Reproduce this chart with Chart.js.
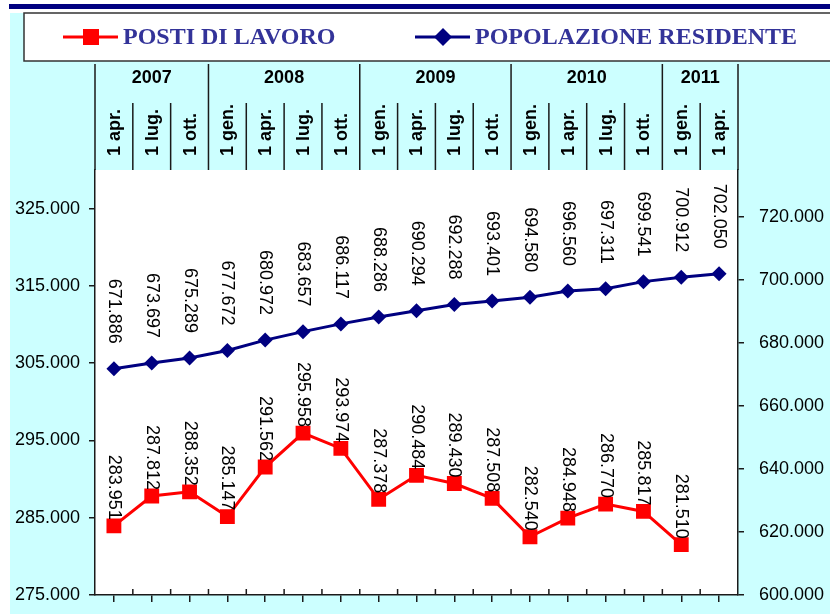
<!DOCTYPE html>
<html>
<head>
<meta charset="utf-8">
<script src="https://cdn.jsdelivr.net/npm/chart.js@4.4.0/dist/chart.umd.min.js"></script>
<style>
  html, body { margin: 0; padding: 0; background: #fff; }
  canvas { display: block; }
</style>
</head>
<body>
<canvas id="graficoPostiPopolazione" width="830" height="614"></canvas>
<script>
// dati
const mesi = ["1 apr.", "1 lug.", "1 ott.",
              "1 gen.", "1 apr.", "1 lug.", "1 ott.",
              "1 gen.", "1 apr.", "1 lug.", "1 ott.",
              "1 gen.", "1 apr.", "1 lug.", "1 ott.",
              "1 gen.", "1 apr."];
const anni = ["2007", "2008", "2009", "2010", "2011"];
const mesiPerAnno = [3, 4, 4, 4, 2];

const postiLavoro = [283951, 287812, 288352, 285147, 291562, 295958, 293974, 287378,
                     290484, 289430, 287508, 282540, 284948, 286770, 285817, 281510, null];
const popolazione = [671886, 673697, 675289, 677672, 680972, 683657, 686117, 688286,
                     690294, 692288, 693401, 694580, 696560, 697311, 699541, 700912, 702050];

const tickSinistra = [275000, 285000, 295000, 305000, 315000, 325000];
const tickDestra = [600000, 620000, 640000, 660000, 680000, 700000, 720000];

const ROSSO = "#FF0000";
const BLU = "#000080";
const CIANO = "#CCFFFF";
const LINEA = "#1a1a1a";
const SANS = "'Liberation Sans', Arial, sans-serif";
const SERIF = "'Liberation Serif', 'Times New Roman', serif";

function formatta(v) {
    return String(v).replace(/\B(?=(\d{3})+(?!\d))/g, ".");
}

// niente padding extra dalle etichette degli assi y
function fissaLarghezza(larghezza) {
    return (s) => {
        s.width = larghezza;
        s.paddingTop = 0;
        s.paddingBottom = 0;
    };
}

// sfondo, intestazione, legenda, etichette
const decorazioni = {
    id: "decorazioni",
    beforeDraw(chart) {
        const { ctx, chartArea: a, width, height } = chart;
        ctx.save();
        ctx.fillStyle = "#fff";
        ctx.fillRect(0, 0, width, height);
        ctx.fillStyle = CIANO;
        ctx.fillRect(10, 13, width - 10, height - 13);
        ctx.fillStyle = BLU;
        ctx.fillRect(9, 4, width - 9, 5);
        ctx.fillStyle = "#fff";
        ctx.fillRect(a.left, a.top, a.right - a.left, a.bottom - a.top);
        ctx.restore();
    },
    afterDatasetsDraw(chart) {
        const ctx = chart.ctx;
        ctx.save();
        ctx.font = "18px " + SANS;
        ctx.fillStyle = "#000";
        ctx.textBaseline = "middle";
        ctx.textAlign = "right";
        const scarti = [6, 25];
        chart.data.datasets.forEach((ds, d) => {
            const meta = chart.getDatasetMeta(d);
            meta.data.forEach((p, i) => {
                if (ds.data[i] == null) return;
                ctx.save();
                ctx.translate(p.x, p.y - scarti[d]);
                ctx.rotate(Math.PI / 2);
                ctx.fillText(formatta(ds.data[i]), 0, 0);
                ctx.restore();
            });
        });
        ctx.restore();
    },
    afterDraw(chart) {
        const { ctx, chartArea: a } = chart;
        const x = chart.scales.x;
        const w = x.getPixelForValue(1) - x.getPixelForValue(0);
        const bordo = (j) => x.getPixelForValue(0) - w / 2 + j * w;
        const top = 64, meta = 103;

        ctx.save();
        ctx.strokeStyle = LINEA;
        ctx.lineWidth = 1.5;

        // righe verticali dell'intestazione
        ctx.beginPath();
        let j = 0;
        ctx.moveTo(bordo(0), top); ctx.lineTo(bordo(0), a.top);
        mesiPerAnno.forEach((n) => {
            for (let k = 1; k < n; k++) {
                ctx.moveTo(bordo(j + k), meta); ctx.lineTo(bordo(j + k), a.top);
            }
            j += n;
            ctx.moveTo(bordo(j), top); ctx.lineTo(bordo(j), a.top);
        });
        // tacche sull'asse x, parte sopra la linea
        for (let k = 1; k < mesi.length; k++) {
            ctx.moveTo(bordo(k), a.bottom - 6); ctx.lineTo(bordo(k), a.bottom);
        }
        ctx.stroke();

        // anni
        ctx.fillStyle = "#000";
        ctx.font = "bold 18px " + SANS;
        ctx.textAlign = "center";
        ctx.textBaseline = "middle";
        j = 0;
        anni.forEach((anno, i) => {
            const n = mesiPerAnno[i];
            ctx.fillText(anno, (bordo(j) + bordo(j + n)) / 2, 78);
            j += n;
        });

        // mesi, ruotati
        ctx.textAlign = "left";
        mesi.forEach((m, i) => {
            ctx.save();
            ctx.translate(x.getPixelForValue(i), 156);
            ctx.rotate(-Math.PI / 2);
            ctx.fillText(m, 0, 1);
            ctx.restore();
        });

        // legenda
        ctx.fillStyle = "#fff";
        ctx.fillRect(24, 13, 830, 48);
        ctx.strokeStyle = "#333";
        ctx.lineWidth = 1.5;
        ctx.strokeRect(24, 13, 830, 48);

        const voci = [
            { x: 63, ds: chart.data.datasets[0] },
            { x: 415, ds: chart.data.datasets[1] }
        ];
        voci.forEach((v) => {
            const y = 37;
            ctx.strokeStyle = v.ds.borderColor;
            ctx.lineWidth = 3;
            ctx.beginPath();
            ctx.moveTo(v.x, y); ctx.lineTo(v.x + 55, y);
            ctx.stroke();
            ctx.fillStyle = v.ds.borderColor;
            const cx = v.x + 28;
            if (v.ds.pointStyle === "rect") {
                ctx.fillRect(cx - 8, y - 8, 16, 16);
            } else {
                ctx.beginPath();
                ctx.moveTo(cx, y - 9); ctx.lineTo(cx + 9, y);
                ctx.lineTo(cx, y + 9); ctx.lineTo(cx - 9, y);
                ctx.closePath();
                ctx.fill();
            }
            ctx.fillStyle = "#333399";
            ctx.font = "bold 24px " + SERIF;
            ctx.textAlign = "left";
            ctx.textBaseline = "middle";
            ctx.fillText(v.ds.label, v.x + 60, y + 1);
        });
        ctx.restore();
    }
};

const ctx = document.getElementById("graficoPostiPopolazione").getContext("2d");

new Chart(ctx, {
    type: "line",
    data: {
        labels: mesi,
        datasets: [
            {
                label: "POSTI DI LAVORO",
                data: postiLavoro,
                yAxisID: "y",
                borderColor: ROSSO,
                backgroundColor: ROSSO,
                borderWidth: 3,
                pointStyle: "rect",
                pointRadius: 10.5,
                pointBorderWidth: 0,
                tension: 0,
            },
            {
                label: "POPOLAZIONE RESIDENTE",
                data: popolazione,
                yAxisID: "y2",
                borderColor: BLU,
                backgroundColor: BLU,
                borderWidth: 3,
                pointStyle: "rectRot",
                pointRadius: 7.5,
                pointBorderWidth: 0,
                tension: 0,
            },
        ],
    },
    options: {
        responsive: false,
        animation: false,
        devicePixelRatio: 1,
        layout: { padding: { top: 170, left: 0, right: 0, bottom: 0 } },
        plugins: {
            legend: { display: false },
            tooltip: { enabled: false },
        },
        scales: {
            x: {
                type: "category",
                offset: true,
                grid: { drawOnChartArea: false, tickLength: 7, color: LINEA, lineWidth: 1.5 },
                border: { color: LINEA, width: 1.5 },
                ticks: { display: false },
                afterFit(s) { s.height = 19; },
            },
            y: {
                position: "left",
                min: 275000,
                max: 330000,
                grid: { drawOnChartArea: false, tickLength: 6, color: LINEA, lineWidth: 1.5 },
                border: { color: LINEA, width: 1.5 },
                afterBuildTicks(s) { s.ticks = tickSinistra.map((v) => ({ value: v })); },
                ticks: {
                    padding: 9,
                    color: "#000",
                    font: { family: SANS, size: 18 },
                    callback: (v) => formatta(v),
                },
                afterFit: fissaLarghezza(95),
            },
            y2: {
                position: "right",
                min: 600000,
                max: 735000,
                grid: { drawOnChartArea: false, tickLength: 6, color: LINEA, lineWidth: 1.5 },
                border: { color: LINEA, width: 1.5 },
                afterBuildTicks(s) { s.ticks = tickDestra.map((v) => ({ value: v })); },
                ticks: {
                    padding: 15,
                    color: "#000",
                    font: { family: SANS, size: 18 },
                    callback: (v) => formatta(v),
                },
                afterFit: fissaLarghezza(92),
            },
        },
    },
    plugins: [decorazioni],
});
</script>
</body>
</html>
